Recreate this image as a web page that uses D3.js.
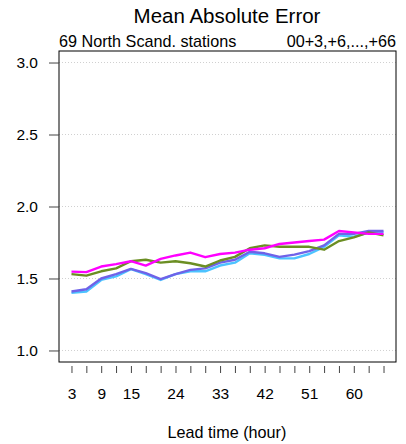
<!DOCTYPE html>
<html>
<head>
<meta charset="utf-8">
<script src="https://cdn.jsdelivr.net/npm/d3@7"></script>
<style>
  body { margin: 0; background: #fff; }
  text { font-family: "Liberation Sans", Arial, sans-serif; }
</style>
</head>
<body>
<div id="chart"></div>
<script>
// lead times 3,6,...,66
var leadTimes = [3,6,9,12,15,18,21,24,27,30,33,36,39,42,45,48,51,54,57,60,63,66];
var xLabels = [3,9,15,24,33,42,51,60];
var yTicks = [1.0,1.5,2.0,2.5,3.0];

var seriesSky     = [1.40,1.41,1.49,1.515,1.565,1.53,1.49,1.53,1.55,1.55,1.59,1.61,1.675,1.665,1.64,1.64,1.67,1.72,1.80,1.79,1.82,1.82];
var seriesSlate   = [1.41,1.425,1.50,1.53,1.567,1.537,1.496,1.53,1.56,1.57,1.61,1.63,1.686,1.675,1.65,1.666,1.69,1.73,1.81,1.81,1.83,1.83];
var seriesGreen   = [1.53,1.52,1.55,1.57,1.62,1.63,1.61,1.62,1.606,1.583,1.625,1.65,1.71,1.73,1.72,1.72,1.72,1.70,1.76,1.785,1.82,1.80];
var seriesMagenta = [1.548,1.544,1.583,1.60,1.62,1.59,1.636,1.66,1.68,1.648,1.67,1.68,1.70,1.71,1.74,1.75,1.76,1.77,1.83,1.82,1.81,1.81];

var W = 406, H = 444;
var box = {left: 59, right: 396, top: 51, bottom: 362};

var svg = d3.select("#chart").append("svg").attr("width", W).attr("height", H);

var x = d3.scaleLinear().domain([0.48, 68.52]).range([box.left, box.right]);
var y = d3.scaleLinear().domain([0.92, 3.08]).range([box.bottom, box.top]);

// grid
svg.append("g").selectAll("line").data(yTicks).enter().append("line")
   .attr("x1", box.left).attr("x2", box.right)
   .attr("y1", function(d){ return y(d); }).attr("y2", function(d){ return y(d); })
   .style("stroke", "#d0d0d0").style("stroke-width", 1).style("stroke-dasharray", "1,2");

// lines
var line = d3.line().x(function(d, i){ return x(leadTimes[i]); }).y(function(d){ return y(d); });
var series = [
  {vals: seriesSky, color: "#4cc3ff"},
  {vals: seriesSlate, color: "#6f62e8"},
  {vals: seriesGreen, color: "#6b8e23"},
  {vals: seriesMagenta, color: "#ff00ff"}
];
svg.append("g").selectAll("path").data(series).enter().append("path")
   .attr("d", function(s){ return line(s.vals); })
   .style("fill", "none").style("stroke", function(s){ return s.color; })
   .style("stroke-width", 2.4).style("stroke-linejoin", "round");

// box
svg.append("rect").attr("x", box.left).attr("y", box.top)
   .attr("width", box.right - box.left).attr("height", box.bottom - box.top)
   .style("fill", "none").style("stroke", "#000").style("stroke-width", 1);

// y axis
var yAxis = d3.axisLeft(y).tickValues(yTicks).tickFormat(d3.format(".1f")).tickSize(10).tickPadding(11);
var gy = svg.append("g").attr("transform", "translate(" + box.left + ",0)").call(yAxis);
gy.select(".domain").remove();
gy.selectAll("line").style("stroke", "#444");
gy.selectAll("text").style("font-size", "15.5px").style("font-family", "Liberation Sans, Arial, sans-serif");

// x axis (ticks only, offset below box)
var xAxis = d3.axisBottom(x).tickValues(leadTimes).tickSize(7).tickPadding(0)
   .tickFormat(function(d){ return xLabels.indexOf(d) >= 0 ? d : ""; });
var gx = svg.append("g").attr("transform", "translate(0," + (box.bottom + 4) + ")").call(xAxis);
gx.select(".domain").remove();
gx.selectAll("line").style("stroke", "#444");
gx.selectAll("text").attr("y", 33).attr("dy", null)
   .style("font-size", "15.5px").style("font-family", "Liberation Sans, Arial, sans-serif");

// titles
svg.append("text").attr("x", 227).attr("y", 23).attr("text-anchor", "middle")
   .style("font-size", "20.5px").text("Mean Absolute Error");
svg.append("text").attr("x", box.left).attr("y", 46.5).style("font-size", "16.2px")
   .text("69 North Scand. stations");
svg.append("text").attr("x", box.right).attr("y", 46.5).attr("text-anchor", "end").style("font-size", "16.2px")
   .text("00+3,+6,...,+66");
svg.append("text").attr("x", 227).attr("y", 438).attr("text-anchor", "middle").style("font-size", "16.2px")
   .text("Lead time (hour)");
</script>
</body>
</html>
